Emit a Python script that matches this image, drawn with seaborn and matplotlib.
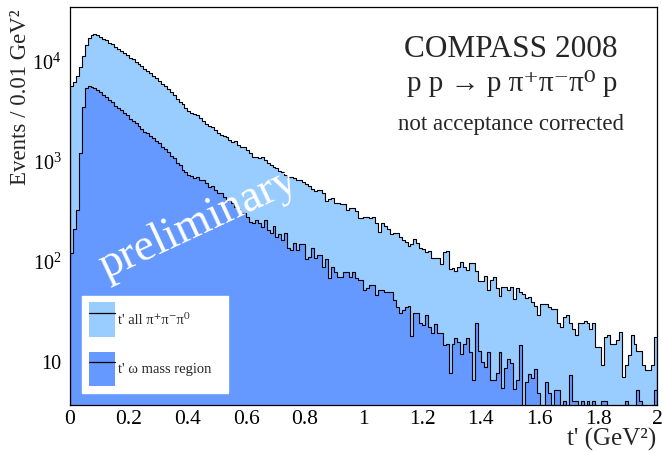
import numpy as np
import pandas as pd
import matplotlib
matplotlib.use("Agg")
import matplotlib.pyplot as plt
import matplotlib.transforms as mtrans
from matplotlib.patches import Patch
from matplotlib.lines import Line2D
from matplotlib.ticker import FixedLocator, FixedFormatter, MultipleLocator, LogLocator, NullFormatter
import seaborn as sns

# ---------------- data (events per 0.01 GeV^2 bin, t' from 0 to 2) ----------------
all_counts = [
    4900, 5400, 6100, 7600, 9800, 12500, 14800, 15800, 16100, 15600,
    15100, 14300, 13900, 13200, 12700, 12000, 11500, 11000, 10300, 9900,
    9300, 9000, 8500, 8000, 7700, 7200, 6900, 6500, 6150, 5800,
    5500, 5150, 4900, 4550, 4250, 3950, 3600, 3400, 3240, 2950,
    2750, 2630, 2570, 2510, 2340, 2190, 2040, 1950, 1900, 1780,
    1660, 1590, 1550, 1510, 1410, 1350, 1370, 1260, 1200, 1190,
    1120, 1050, 955, 955, 930, 945, 890, 830, 795, 760,
    740, 690, 675, 630, 605, 600, 590, 560, 565, 537,
    513, 490, 457, 437, 440, 445, 417, 347, 363, 372,
    331, 328, 323, 326, 282, 295, 295, 275, 234, 234,
    240, 240, 234, 240, 209, 170, 209, 195, 182, 162,
    166, 166, 150, 140, 135, 123, 129, 145, 132, 117,
    115, 107, 110, 93, 93, 93, 81, 107, 110, 72,
    74, 69, 76, 85, 76, 71, 83, 83, 69, 55,
    55, 62, 45, 56, 60, 47, 39, 48, 48, 45,
    48, 36, 47, 43, 41, 37, 38, 34, 31, 25,
    32, 32, 32, 30, 29, 29, 21, 19, 24, 25,
    21, 18, 16, 21, 21, 22, 21, 18, 21, 12,
    12, 8, 15, 16, 13, 13, 14, 17, 6, 8,
    10, 16, 13, 11, 11, 8, 7, 7, 8, 15,
]

omega_counts = [
    105, 180, 280, 1050, 3000, 4600, 4850, 4800, 4600, 4400,
    4200, 4000, 3750, 3550, 3350, 3100, 2950, 2800, 2600, 2480,
    2300, 2200, 2080, 1950, 1830, 1700, 1640, 1530, 1460, 1360,
    1300, 1200, 1140, 1060, 980, 920, 832, 794, 708, 676,
    631, 617, 589, 603, 562, 560, 525, 479, 490, 447,
    417, 417, 380, 347, 350, 331, 302, 288, 263, 260,
    240, 214, 209, 224, 209, 191, 224, 178, 166, 195,
    151, 162, 141, 166, 117, 112, 132, 112, 129, 129,
    91, 95, 117, 93, 100, 100, 76, 91, 59, 76,
    68, 60, 60, 68, 68, 60, 68, 59, 56, 56,
    45, 47, 50, 50, 40, 45, 45, 43, 43, 43,
    35, 30, 26, 28, 30, 31, 15.5, 26, 26, 21,
    20, 25, 19, 16.6, 20.4, 16.6, 16.6, 12.6, 13, 6.6,
    12.9, 14.8, 13.5, 10.2, 13, 14.8, 10.7, 5.6, 21, 11,
    8.5, 7.6, 10.7, 5.6, 5.6, 6.6, 10.7, 4.7, 7.4, 9.1,
    8.3, 4.6, 5.6, 12.6, 0, 5.4, 6.5, 5.9, 7.2, 4.2,
    0, 0, 5.4, 4.2, 0, 4.5, 4.5, 0, 3.5, 0,
    6.3, 3.5, 3.5, 0, 3.5, 0, 3.5, 0, 3.5, 0,
    0, 3.5, 3.5, 0, 0, 0, 0, 0, 0, 3.5,
    0, 0, 0, 4.5, 3.5, 0, 0, 0, 0, 4.5,
]

t_range = (0.0, 2.0)
x_ticks = [0, 0.2, 0.4, 0.6, 0.8, 1.0, 1.2, 1.4, 1.6, 1.8, 2.0]
x_tick_labels = ["0", "0.2", "0.4", "0.6", "0.8", "1", "1.2", "1.4", "1.6", "1.8", "2"]
y_ticks = [10, 100, 1000, 10000]
y_tick_labels = ["10", r"$\mathrm{10^{2}}$", r"$\mathrm{10^{3}}$", r"$\mathrm{10^{4}}$"]
y_range = (3.16, 3.0e4)

label_all = "t' all π⁺π⁻π⁰"
label_omega = "t' ω mass region"

# ---------------- style ----------------
sns.set_theme(style="white")
plt.rcParams["font.family"] = ["Liberation Serif", "DejaVu Serif"]
plt.rcParams["mathtext.fontset"] = "custom"
plt.rcParams["mathtext.rm"] = "Liberation Serif"
plt.rcParams["mathtext.it"] = "Liberation Serif:italic"
plt.rcParams["mathtext.bf"] = "Liberation Serif:bold"
plt.rcParams["axes.axisbelow"] = "line"

light = "#99CCFF"
dark = "#6699FF"

nb = len(all_counts)
df = pd.DataFrame({
    "t": np.concatenate([np.linspace(0.005, 1.995, nb)] * 2),
    "n": np.concatenate([np.asarray(all_counts, float), np.asarray(omega_counts, float)]),
    "sel": ["all"] * nb + ["omega"] * nb,
})

W, H = 662, 451
fig = plt.figure(figsize=(W / 100, H / 100), dpi=100)
ax = fig.add_axes([70 / W, (H - 405) / H, 587 / W, 398 / H])

sns.histplot(data=df[df.sel == "all"], x="t", weights="n", bins=nb, binrange=t_range,
             element="step", fill=True, color=light, alpha=1,
             edgecolor="black", linewidth=0.8, ax=ax)
sns.histplot(data=df[df.sel == "omega"], x="t", weights="n", bins=nb, binrange=t_range,
             element="step", fill=True, color=dark, alpha=1,
             edgecolor="black", linewidth=0.8, ax=ax)
colls = ax.collections
colls[0].set_zorder(1.0)
colls[1].set_zorder(2.0)

ax.set_yscale("log")
ax.set_xlim(*t_range)
ax.set_ylim(*y_range)
ax.set_xlabel("")
ax.set_ylabel("")

# ticks
ax.xaxis.set_major_locator(FixedLocator(x_ticks))
ax.xaxis.set_major_formatter(FixedFormatter(x_tick_labels))
ax.xaxis.set_minor_locator(MultipleLocator(0.04))
ax.yaxis.set_major_locator(FixedLocator(y_ticks))
ax.yaxis.set_major_formatter(FixedFormatter(y_tick_labels))
ax.yaxis.set_minor_locator(LogLocator(base=10, subs=np.arange(2, 10)))
ax.yaxis.set_minor_formatter(NullFormatter())
ax.tick_params(axis="both", which="both", direction="in", colors="black",
               top=False, right=False, width=0.8)
ax.tick_params(axis="x", which="major", length=8.6, pad=3.5, labelsize=15.5)
ax.tick_params(axis="x", which="minor", length=4.3)
ax.tick_params(axis="y", which="major", length=8.6, pad=6, labelsize=14.5)
ax.tick_params(axis="y", which="minor", length=5.8)
for tk in ax.yaxis.get_major_ticks():
    tk.label1.set_transform(tk.label1.get_transform() +
                            mtrans.ScaledTranslation(0, -0.07, fig.dpi_scale_trans))

for s in ax.spines.values():
    s.set_color("black")
    s.set_linewidth(0.9)
    s.set_visible(True)

# axis titles
fig.text(21 / W, 1 - 9 / H, "Events / 0.01 GeV²", rotation=90,
         ha="center", va="top", fontsize=16.5)
fig.text(656 / W, 1 - 446 / H, "t' (GeV²)", ha="right",
         va="baseline", fontsize=18)

# annotations
fig.text(511 / W, 1 - 57 / H, "COMPASS 2008", ha="center", va="baseline", fontsize=22.5)
fig.text(512 / W, 1 - 91 / H, "p p → p π⁺π⁻π⁰ p",
         ha="center", va="baseline", fontsize=21)
fig.text(511 / W, 1 - 130 / H, "not acceptance corrected", ha="center",
         va="baseline", fontsize=16.5)
ax.text((198 - 70) / 587, (405 - 224) / 398, "preliminary", transform=ax.transAxes,
        rotation=25, rotation_mode="anchor", ha="center", va="center",
        color="white", fontsize=33, zorder=3)

# legend
h_all = (Patch(facecolor=light, edgecolor="none"), Line2D([], [], color="black", lw=0.9))
h_om = (Patch(facecolor=dark, edgecolor="none"), Line2D([], [], color="black", lw=0.9))
leg = ax.legend([h_all, h_om], [label_all, label_omega], loc="lower left",
                bbox_to_anchor=(12 / 587, 12 / 398, 146 / 587, 98 / 398), mode="expand",
                fontsize=10.5, frameon=True, fancybox=False, framealpha=1,
                edgecolor="white", facecolor="white", handlelength=1.78,
                handleheight=3.3, labelspacing=1.0, borderpad=0.45,
                handletextpad=0.27, borderaxespad=0)
leg.set_zorder(5)

fig.savefig("out.png", dpi=100)
